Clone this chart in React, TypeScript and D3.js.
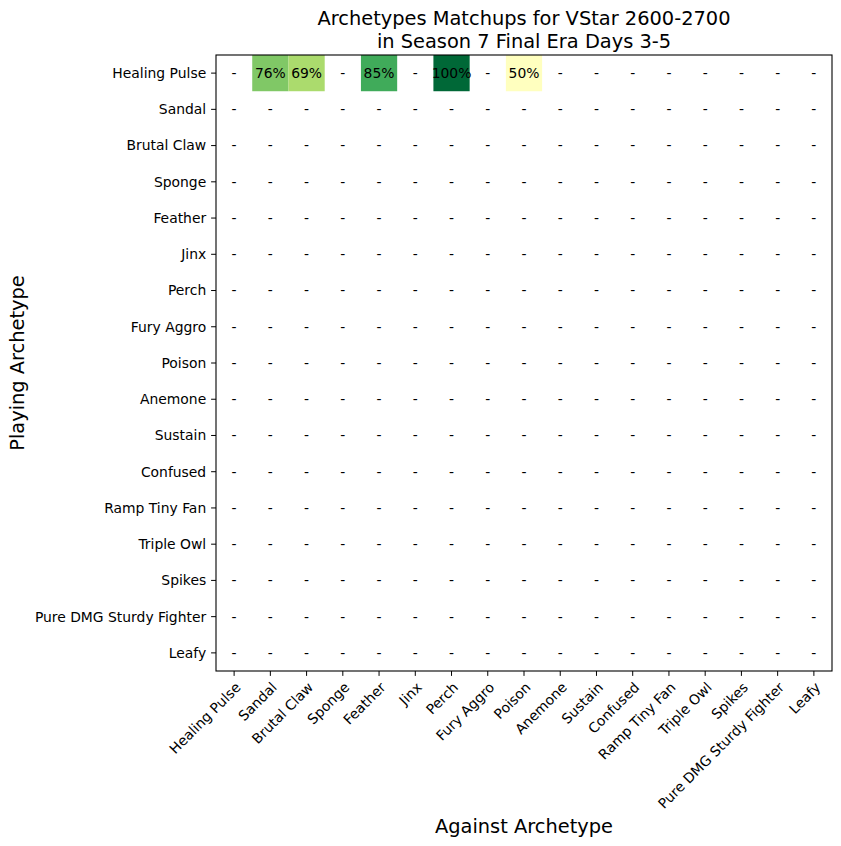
import React, { useEffect, useRef } from 'react';
import * as d3 from 'd3';

const archetypes = [
  'Healing Pulse', 'Sandal', 'Brutal Claw', 'Sponge', 'Feather', 'Jinx', 'Perch',
  'Fury Aggro', 'Poison', 'Anemone', 'Sustain', 'Confused', 'Ramp Tiny Fan',
  'Triple Owl', 'Spikes', 'Pure DMG Sturdy Fighter', 'Leafy'
];

// known matchups: [playing, against, win %]
const matchups: [string, string, number][] = [
  ['Healing Pulse', 'Sandal', 76],
  ['Healing Pulse', 'Brutal Claw', 69],
  ['Healing Pulse', 'Feather', 85],
  ['Healing Pulse', 'Perch', 100],
  ['Healing Pulse', 'Poison', 50],
];

// RdYlGn (ColorBrewer 11), linearly interpolated like matplotlib
const rdylgn = ['#a50026', '#d73027', '#f46d43', '#fdae61', '#fee08b', '#ffffbf',
  '#d9ef8b', '#a6d96a', '#66bd63', '#1a9850', '#006837'];

export default function App() {
  const ref = useRef<SVGSVGElement>(null);

  useEffect(() => {
    if (!ref.current) return;
    const svg = d3.select(ref.current);
    svg.selectAll('*').remove();

    const W = 841, H = 846;
    const left = 216, top = 55, size = 616;
    const font = 'DejaVu Sans, sans-serif';

    const x = d3.scaleBand().domain(archetypes).range([left, left + size]);
    const y = d3.scaleBand().domain(archetypes).range([top, top + size]);
    const color = d3.scaleLinear<string>()
      .domain(d3.range(rdylgn.length).map(i => (i * 100) / (rdylgn.length - 1)))
      .range(rdylgn)
      .interpolate(d3.interpolateRgb);

    svg.attr('width', W).attr('height', H);
    svg.append('rect').attr('width', W).attr('height', H).attr('fill', '#fff');

    const lookup = new Map(matchups.map(d => [d[0] + '|' + d[1], d[2]]));

    const cells = archetypes.flatMap(r => archetypes.map(c => ({ r, c, v: lookup.get(r + '|' + c) })));

    svg.append('g').selectAll('rect')
      .data(cells.filter(d => d.v !== undefined))
      .enter().append('rect')
      .attr('x', d => x(d.c)!)
      .attr('y', d => y(d.r)!)
      .attr('width', x.bandwidth())
      .attr('height', y.bandwidth())
      .attr('fill', d => color(d.v!));

    svg.append('g').selectAll('text')
      .data(cells)
      .enter().append('text')
      .attr('x', d => x(d.c)! + x.bandwidth() / 2)
      .attr('y', d => y(d.r)! + y.bandwidth() / 2)
      .attr('dy', '0.35em')
      .attr('text-anchor', 'middle')
      .attr('font-family', font)
      .attr('font-size', 13.9)
      .attr('fill', '#000')
      .text(d => (d.v === undefined ? '-' : `${d.v}%`));

    // axes frame
    svg.append('rect')
      .attr('x', left).attr('y', top).attr('width', size).attr('height', size)
      .attr('fill', 'none').attr('stroke', '#000').attr('stroke-width', 1.1);

    const tick = 4.9;
    // y ticks
    const yt = svg.append('g');
    archetypes.forEach(a => {
      const cy = y(a)! + y.bandwidth() / 2;
      yt.append('line').attr('x1', left - tick).attr('x2', left).attr('y1', cy).attr('y2', cy)
        .attr('stroke', '#000').attr('stroke-width', 1);
      yt.append('text').attr('x', left - tick - 4.9).attr('y', cy).attr('dy', '0.35em')
        .attr('text-anchor', 'end').attr('font-family', font).attr('font-size', 13.9).text(a);
    });

    // x ticks
    const xt = svg.append('g');
    const bottom = top + size;
    archetypes.forEach(a => {
      const cx = x(a)! + x.bandwidth() / 2;
      xt.append('line').attr('x1', cx).attr('x2', cx).attr('y1', bottom).attr('y2', bottom + tick)
        .attr('stroke', '#000').attr('stroke-width', 1);
      xt.append('text')
        .attr('transform', `translate(${cx},${bottom + tick + 4.9}) rotate(-45)`)
        .attr('dy', '0.76em')
        .attr('text-anchor', 'end').attr('font-family', font).attr('font-size', 13.9).text(a);
    });

    // title
    svg.append('text').attr('x', left + size / 2).attr('y', 25).attr('text-anchor', 'middle')
      .attr('font-family', font).attr('font-size', 19.4).text('Archetypes Matchups for VStar 2600-2700');
    svg.append('text').attr('x', left + size / 2).attr('y', 48).attr('text-anchor', 'middle')
      .attr('font-family', font).attr('font-size', 19.4).text('in Season 7 Final Era Days 3-5');

    // axis labels
    svg.append('text').attr('x', left + size / 2).attr('y', 833).attr('text-anchor', 'middle')
      .attr('font-family', font).attr('font-size', 19.4).text('Against Archetype');
    svg.append('text').attr('transform', `translate(24,${top + size / 2}) rotate(-90)`)
      .attr('text-anchor', 'middle')
      .attr('font-family', font).attr('font-size', 19.4).text('Playing Archetype');
  }, []);

  return <svg ref={ref} style={{ display: 'block', position: 'absolute', left: 0, top: 0 }} />;
}
